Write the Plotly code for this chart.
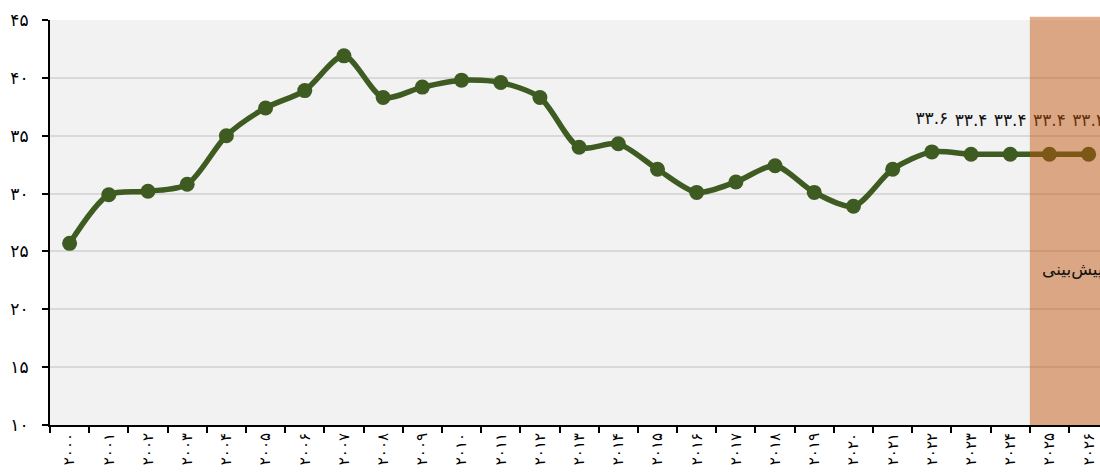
import plotly.graph_objects as go

FA = str.maketrans("0123456789", "۰۱۲۳۴۵۶۷۸۹")

def fa(s):
    return str(s).translate(FA)

years = list(range(2000, 2027))
values = [25.7, 29.9, 30.2, 30.8, 35.0, 37.4, 38.9, 41.9, 38.3, 39.2,
          39.8, 39.6, 38.3, 34.0, 34.3, 32.1, 30.1, 31.0, 32.4, 30.1,
          28.9, 32.1, 33.6, 33.4, 33.4, 33.4, 33.4]
labeled_years = [2022, 2023, 2024, 2025, 2026]
forecast_start_year = 2025
forecast_label = "پیش‌بینی"
y_ticks = [10, 15, 20, 25, 30, 35, 40, 45]

cats = [fa(y) for y in years]
lab_x = [fa(y) for y in labeled_years]
lab_y = [values[years.index(y)] for y in labeled_years]
lab_t = [fa(f"{v:.1f}") for v in lab_y]

FONT = "DejaVu Sans"
GREEN = "#3e5b22"

fig = go.Figure()
fig.add_trace(go.Scatter(
    x=cats, y=values, mode="lines+markers",
    line=dict(color=GREEN, width=5.5, shape="spline", smoothing=0.8),
    marker=dict(color=GREEN, size=15),
    hoverinfo="skip", showlegend=False,
))
fig.add_trace(go.Scatter(
    x=lab_x, y=lab_y, mode="markers+text", text=lab_t,
    textposition="top center",
    textfont=dict(family=FONT, size=17, color="#111111"),
    marker=dict(size=36, opacity=0),
    hoverinfo="skip", showlegend=False, cliponaxis=False,
))

fs = years.index(forecast_start_year) - 0.5
fig.add_shape(type="rect", xref="x", yref="paper", x0=fs, x1=len(years) + 1,
              y0=0, y1=1.008, fillcolor="rgba(192,84,10,0.48)",
              line=dict(width=0), layer="above")
fig.add_annotation(x=fs + 0.25, y=23.4, xref="x", yref="y", text=forecast_label,
                   showarrow=False, xanchor="left", yanchor="middle",
                   font=dict(family=FONT, size=17, color="#111111"))

fig.update_xaxes(
    type="category", range=[-0.5, 26.29], tickson="boundaries",
    ticks="outside", ticklen=6, tickwidth=2, tickcolor="black",
    showline=True, linecolor="black", linewidth=2,
    showgrid=False, tickangle=-90, automargin=False,
    tickfont=dict(family=FONT, size=15, color="black"),
)
fig.update_yaxes(
    range=[10, 45], tickvals=y_ticks, ticktext=[fa(v) for v in y_ticks],
    ticks="outside", ticklen=6, tickwidth=2, tickcolor="black",
    showline=True, linecolor="black", linewidth=2, automargin=False,
    showgrid=True, gridcolor="#d9d9d9", gridwidth=2, zeroline=False,
    ticklabelstandoff=10,
    tickfont=dict(family=FONT, size=17, color="black"),
)
fig.update_layout(
    width=1100, height=473,
    margin=dict(l=50, r=0, t=20, b=48),
    paper_bgcolor="white", plot_bgcolor="#f2f2f2",
    font=dict(family=FONT),
)
fig.write_html(
    "out.html",
    config={"displayModeBar": False},
    post_script="document.body.style.margin='0';document.body.style.overflow='hidden';",
)
